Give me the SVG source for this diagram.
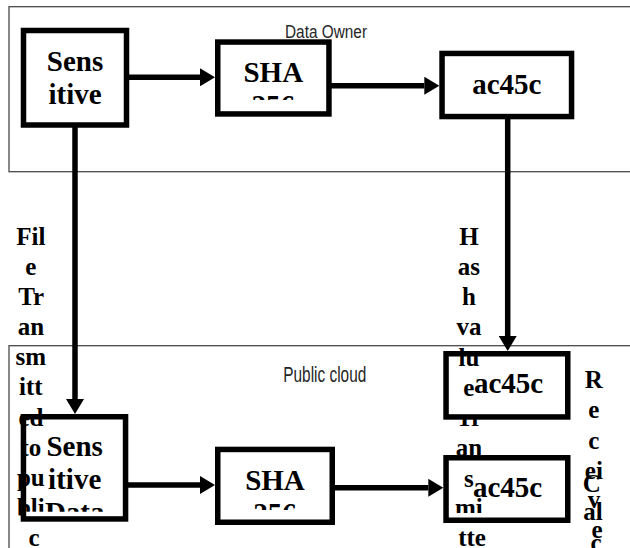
<svg xmlns="http://www.w3.org/2000/svg" width="630" height="548" viewBox="0 0 630 548">
  <defs>
    <style>
      .frame { fill: none; stroke: #4a4a4a; stroke-width: 1.3; }
      .ftxt { font-family: "Liberation Sans", Arial, sans-serif; fill: #262626; }
      .box { fill: none; stroke: #000; stroke-width: 5.5; }
      .btxt { font-family: "Liberation Serif", "Times New Roman", serif; font-weight: bold; font-size: 29px; fill: #000; text-anchor: middle; }
      .ltxt { font-family: "Liberation Serif", "Times New Roman", serif; font-weight: bold; font-size: 25px; fill: #000; text-anchor: middle; }
      .conn { stroke: #000; stroke-width: 5.5; fill: none; }
      .strip { fill: #fff; }
    </style>
    <marker id="ah" markerUnits="userSpaceOnUse" markerWidth="16" markerHeight="18" refX="0" refY="9" orient="auto">
      <path d="M0,0 L15,9 L0,18 Z" fill="#000"/>
    </marker>
    <clipPath id="cS1"><rect x="26" y="33" width="98" height="85"/></clipPath>
    <clipPath id="cSHA1"><rect x="220" y="44" width="106" height="56"/></clipPath>
    <clipPath id="cAC1"><rect x="444" y="56" width="125" height="58"/></clipPath>
    <clipPath id="cS2"><rect x="26" y="419" width="97" height="92.7"/></clipPath>
    <clipPath id="cSHA2"><rect x="220" y="452" width="110" height="58"/></clipPath>
    <clipPath id="cAC2"><rect x="448" y="356" width="117" height="51"/></clipPath>
    <clipPath id="cAC3"><rect x="448" y="460" width="117" height="53"/></clipPath>
  </defs>

  <g id="frames">
    <g id="data-owner">
      <rect class="frame" x="9" y="6.7" width="640" height="165"/>
      <text class="ftxt" x="285" y="37.5" font-size="17.5" textLength="82" lengthAdjust="spacingAndGlyphs">Data Owner</text>
    </g>
    <g id="public-cloud">
      <rect class="frame" x="9" y="345.7" width="640" height="230"/>
      <text class="ftxt" x="283.3" y="381.5" font-size="22" textLength="83" lengthAdjust="spacingAndGlyphs">Public cloud</text>
    </g>
  </g>

  <g id="connectors">
    <line class="conn" x1="129" y1="77.3" x2="200" y2="77.3" marker-end="url(#ah)"/>
    <line class="conn" x1="331" y1="85.7" x2="424.3" y2="85.7" marker-end="url(#ah)"/>
    <line class="conn" x1="75" y1="127" x2="75" y2="399" marker-end="url(#ah)"/>
    <line class="conn" x1="507.7" y1="119" x2="507.7" y2="336" marker-end="url(#ah)"/>
    <line class="conn" x1="128" y1="485" x2="200" y2="485" marker-end="url(#ah)"/>
    <line class="conn" x1="334.5" y1="487.8" x2="428.3" y2="487.8" marker-end="url(#ah)"/>
  </g>

  <g id="connector-labels">
    <text class="ltxt" id="label-file">
      <tspan x="34" y="245">Fil</tspan>
      <tspan x="34" y="275">e</tspan>
      <tspan x="34" y="305">Tr</tspan>
      <tspan x="34" y="335">an</tspan>
      <tspan x="34" y="365">sm</tspan>
      <tspan x="34" y="395">itt</tspan>
      <tspan x="34" y="425.5">ed</tspan>
      <tspan x="34" y="455.5">to</tspan>
      <tspan x="34" y="485.5">pu</tspan>
      <tspan x="34" y="515.5">bli</tspan>
      <tspan x="34" y="545.5">c</tspan>
    </text>
    <text class="ltxt" id="label-hash">
      <tspan x="472" y="245">H</tspan>
      <tspan x="472" y="275">as</tspan>
      <tspan x="472" y="305">h</tspan>
      <tspan x="472" y="335">va</tspan>
      <tspan x="472" y="365.5">lu</tspan>
      <tspan x="472" y="396">e</tspan>
      <tspan x="472" y="426">Tr</tspan>
      <tspan x="472" y="456">an</tspan>
      <tspan x="472" y="487">s</tspan>
      <tspan x="472" y="516">mi</tspan>
      <tspan x="472" y="546">tte</tspan>
    </text>
    <text class="ltxt" id="label-received">
      <tspan x="597" y="388">R</tspan>
      <tspan x="597" y="418">e</tspan>
      <tspan x="597" y="449">c</tspan>
      <tspan x="597" y="479">ei</tspan>
      <tspan x="597" y="508">v</tspan>
      <tspan x="597" y="538">e</tspan>
    </text>
    <text class="ltxt" id="label-calc">
      <tspan x="595" y="492">C</tspan>
      <tspan x="596" y="520">al</tspan>
      <tspan x="596" y="551">c</tspan>
    </text>
  </g>

  <g id="node-sensitive-owner">
    <text class="btxt" clip-path="url(#cS1)"><tspan x="75" y="70.7">Sens</tspan><tspan x="75" y="104">itive</tspan></text>
    <rect class="box" x="23.5" y="30.5" width="103" height="94.5"/>
  </g>
  <g id="node-sha-owner">
    <text class="btxt" clip-path="url(#cSHA1)"><tspan x="273.3" y="81.7">SHA</tspan><tspan x="273.3" y="115">256</tspan></text>
    <rect class="box" x="217.75" y="42.05" width="111.2" height="71.9"/>
  </g>
  <g id="node-hash-owner">
    <text class="btxt" clip-path="url(#cAC1)" x="506.8" y="94.3">ac45c</text>
    <rect class="box" x="442.05" y="53.45" width="129.5" height="63.1"/>
  </g>

  <g id="node-received-hash">
    <rect class="strip" x="448" y="406" width="118" height="9"/>
    <text class="btxt" clip-path="url(#cAC2)" x="508.5" y="393.3">ac45c</text>
    <rect class="box" x="446.05" y="353.75" width="121.7" height="63.2"/>
  </g>
  <g id="node-sensitive-cloud">
    <rect class="strip" x="26" y="511.7" width="97" height="5"/>
    <text class="btxt" clip-path="url(#cS2)"><tspan x="74.7" y="455.7">Sens</tspan><tspan x="74.7" y="489">itive</tspan><tspan x="74.7" y="522.3">Data</tspan></text>
    <rect class="box" x="23.45" y="416.75" width="102.1" height="102.2"/>
  </g>
  <g id="node-sha-cloud">
    <text class="btxt" clip-path="url(#cSHA2)"><tspan x="275" y="490">SHA</tspan><tspan x="275" y="523.3">256</tspan></text>
    <rect class="box" x="217.75" y="449.45" width="114.5" height="72.8"/>
  </g>
  <g id="node-calculated-hash">
    <rect class="strip" x="448" y="513" width="118" height="5"/>
    <text class="btxt" clip-path="url(#cAC3)" x="507.5" y="497">ac45c</text>
    <rect class="box" x="446.05" y="457.75" width="121.7" height="62.5"/>
  </g>
</svg>
